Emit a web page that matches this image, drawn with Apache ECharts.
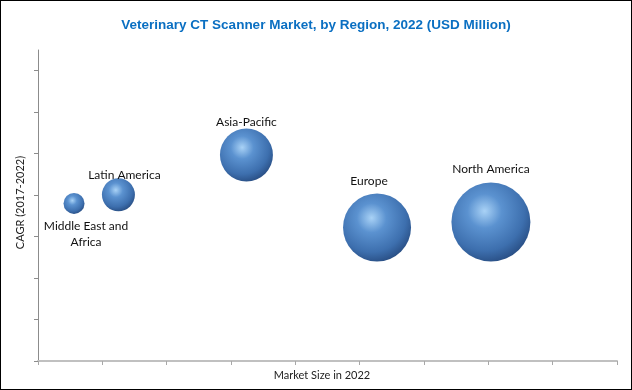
<!DOCTYPE html>
<html>
<head>
<meta charset="utf-8">
<script src="https://cdn.jsdelivr.net/npm/echarts@6/dist/echarts.min.js"></script>
<style>
html,body{margin:0;padding:0;background:#fff;}
#wrap{width:632px;height:390px;box-sizing:border-box;border:1px solid #000;position:relative;overflow:hidden;}
#chart{position:absolute;left:-1px;top:-1px;width:632px;height:390px;}
</style>
</head>
<body>
<div id="wrap"><div id="chart"></div></div>
<script>
const regions = ['Middle East and\nAfrica', 'Latin America', 'Asia-Pacific', 'Europe', 'North America'];
const marketSize = [0.56, 1.25, 3.24, 5.27, 7.04];
const cagr = [3.80, 4.01, 4.97, 3.22, 3.35];
const bubbleSize = [21, 33, 53, 68, 79];
const yTicks = [0, 1, 2, 3, 4, 5, 6, 7];
const labelOffsets = [[12, 31], [6, -20], [0, -33], [-8, -46], [0, -53]];

const sphere = {
  type: 'radial', x: 0.42, y: 0.36, r: 0.72,
  colorStops: [
    {offset: 0, color: '#a9d2f6'},
    {offset: 0.3, color: '#5b92d0'},
    {offset: 0.7, color: '#3d6fae'},
    {offset: 0.9, color: '#2b5289'},
    {offset: 1, color: '#1b3558'}
  ]
};

const chart = echarts.init(document.getElementById('chart'), null, {renderer: 'canvas'});
chart.setOption({
  animation: false,
  backgroundColor: '#fff',
  title: {
    text: 'Veterinary CT Scanner Market, by Region, 2022 (USD Million)',
    left: 'center',
    top: 13,
    textStyle: {color: '#0a6fc2', fontSize: 13.5, fontWeight: 'bold', fontFamily: '"Liberation Sans Narrow", "Liberation Sans", Arial, sans-serif'}
  },
  grid: {left: 38, right: 15, top: 50, bottom: 29},
  xAxis: {
    type: 'value', min: 0, max: 9, interval: 1,
    name: 'Market Size in 2022', nameLocation: 'middle', nameGap: 9,
    nameTextStyle: {color: '#222', fontSize: 11, fontFamily: 'Lato, sans-serif', padding: [0, 11, 0, 0]},
    axisLine: {show: true, lineStyle: {color: '#c0c0c0', width: 2}},
    axisTick: {show: true, length: 4, lineStyle: {color: '#a8a8a8', width: 1}},
    axisLabel: {show: false},
    splitLine: {show: false}
  },
  yAxis: {
    type: 'value', min: 0, max: 7.5, interval: 1,
    name: 'CAGR (2017-2022)', nameLocation: 'middle', nameGap: 12,
    nameTextStyle: {color: '#222', fontSize: 11, fontFamily: 'Lato, sans-serif', padding: [0, 0, 0, 6]},
    axisLine: {show: true, lineStyle: {color: '#8c8c8c', width: 1}},
    axisTick: {show: true, length: 4, customValues: yTicks, lineStyle: {color: '#8c8c8c', width: 1}},
    axisLabel: {show: false},
    splitLine: {show: false}
  },
  series: [{
    type: 'scatter',
    data: regions.map((r, i) => ({
      name: r,
      value: [marketSize[i], cagr[i], bubbleSize[i]],
      label: {offset: labelOffsets[i]}
    })),
    symbolSize: d => d[2],
    itemStyle: {color: sphere, opacity: 1},
    label: {
      show: true,
      position: 'inside',
      formatter: p => p.name,
      color: '#111',
      fontSize: 12,
      lineHeight: 16,
      fontFamily: 'Lato, sans-serif'
    }
  }]
});
</script>
</body>
</html>
